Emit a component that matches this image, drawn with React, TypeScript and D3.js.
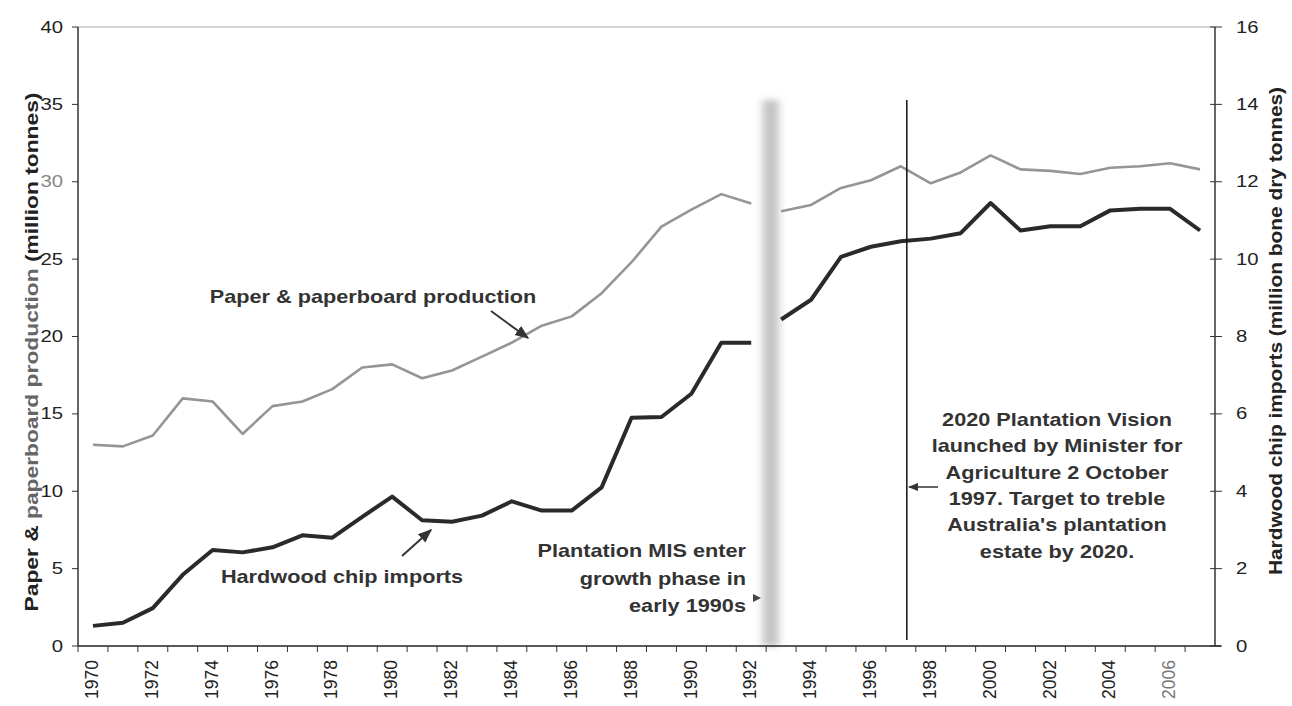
import React from "react";
import * as d3 from "d3";

const years = [1970,1971,1972,1973,1974,1975,1976,1977,1978,1979,1980,1981,1982,1983,1984,1985,1986,1987,1988,1989,1990,1991,1992,1993,1994,1995,1996,1997,1998,1999,2000,2001,2002,2003,2004,2005,2006,2007];
// Paper & paperboard production (million tonnes, left axis)
const paper = [13.0,12.9,13.6,16.0,15.8,13.7,15.5,15.8,16.6,18.0,18.2,17.3,17.8,18.7,19.6,20.7,21.3,22.8,24.8,27.1,28.2,29.2,28.6,28.1,28.5,29.6,30.1,31.0,29.9,30.6,31.7,30.8,30.7,30.5,30.9,31.0,31.2,30.8];
// Hardwood chip imports (million bone dry tonnes, right axis)
const hardwood = [0.52,0.6,0.98,1.84,2.48,2.42,2.55,2.86,2.8,3.34,3.86,3.25,3.21,3.37,3.74,3.5,3.5,4.1,5.9,5.92,6.52,7.84,7.84,8.44,8.95,10.06,10.32,10.46,10.53,10.67,11.45,10.74,10.85,10.85,11.26,11.3,11.3,10.74];
const breakAfter = 1992; // the lines are broken between 1992 and 1993
const leftTicks = [0,5,10,15,20,25,30,35,40];
const rightTicks = [0,2,4,6,8,10,12,14,16];
const xLabelYears = [1970,1972,1974,1976,1978,1980,1982,1984,1986,1988,1990,1992,1994,1996,1998,2000,2002,2004,2006];
const visionYear = 1997;
const visionLines = ["2020 Plantation Vision","launched by Minister for","Agriculture 2 October","1997. Target to treble","Australia's plantation","estate by 2020."];
const misLines = ["Plantation MIS enter","growth phase in","early 1990s"];

const W = 1292, H = 706;
const L = 78, R = 1215, T = 27, B = 646;
const FONT = "'Liberation Sans', Arial, sans-serif";
const SX = 1.24;

function SText(props: { x: number; y: number; anchor?: string; size?: number; bold?: boolean; fill?: string; sx?: number; children: React.ReactNode }) {
  const { x, y, anchor = "start", size = 17.5, bold = true, fill = "#333", sx = SX, children } = props;
  return (
    <text transform={`translate(${x},${y}) scale(${sx},1)`} textAnchor={anchor} dy="0.35em" fontSize={size} fontWeight={bold ? "bold" : "normal"} fill={fill}>
      {children}
    </text>
  );
}

export default function App() {
  const x = d3.scalePoint<number>().domain(years).range([L, R]).padding(0.5);
  const step = x.step();
  const yL = d3.scaleLinear().domain([0, 40]).range([B, T]);
  const yR = d3.scaleLinear().domain([0, 16]).range([B, T]);

  const seg = (vals: number[], y: (v: number) => number) => {
    const pts = years.map((yr, i) => ({ yr, v: vals[i] }));
    const a = pts.filter(p => p.yr <= breakAfter);
    const b = pts.filter(p => p.yr > breakAfter);
    const line = d3.line<{ yr: number; v: number }>().x(p => x(p.yr) as number).y(p => y(p.v));
    return [line(a) as string, line(b) as string];
  };
  const paperPaths = seg(paper, yL);
  const hwPaths = seg(hardwood, yR);

  const vx = (x(visionYear) as number) + step * 0.2;
  const bandX = (x(breakAfter) as number) + step * 0.65;

  return (
    <svg width={W} height={H} style={{ position: "absolute", left: 0, top: 0, background: "#fff" }} fontFamily={FONT}>
      <defs>
        <filter id="blur" x="-2" y="-0.1" width="5" height="1.2">
          <feGaussianBlur stdDeviation="4.5 3" />
        </filter>
        <marker id="ah" viewBox="0 0 10 10" refX="9" refY="5" markerWidth="7" markerHeight="7" orient="auto-start-reverse">
          <path d="M0,1 L10,5 L0,9 z" fill="#333" />
        </marker>
      </defs>

      {/* fold band */}
      <rect x={bandX - 8} y={100} width={16} height={B - 100} fill="#c2c2c2" filter="url(#blur)" />

      {/* frame */}
      <line x1={L} x2={R} y1={T} y2={T} stroke="#aaa" strokeWidth={1} />
      <line x1={L} x2={L} y1={T} y2={B} stroke="#333" strokeWidth={1.5} />
      <line x1={R} x2={R} y1={T} y2={B} stroke="#333" strokeWidth={1.5} />
      <line x1={L} x2={R + 6} y1={B} y2={B} stroke="#222" strokeWidth={1.5} />

      {/* left ticks */}
      {leftTicks.map(t => (
        <g key={"l" + t}>
          <line x1={L - 6} x2={L} y1={yL(t)} y2={yL(t)} stroke="#333" />
          <SText x={63} y={yL(t)} anchor="end" size={16} bold={false} sx={1.27} fill={t === 30 ? "#888" : "#222"}>{t}</SText>
        </g>
      ))}
      {/* right ticks */}
      {rightTicks.map(t => (
        <g key={"r" + t}>
          <line x1={R - 5} x2={R + 7} y1={yR(t)} y2={yR(t)} stroke="#333" />
          <SText x={1236} y={yR(t)} anchor="start" size={16} bold={false} sx={1.27} fill="#222">{t}</SText>
        </g>
      ))}
      {/* x ticks at band boundaries */}
      {years.map(yr => (
        <line key={"xt" + yr} x1={(x(yr) as number) - step / 2} x2={(x(yr) as number) - step / 2} y1={B} y2={B + 6} stroke="#333" />
      ))}
      {xLabelYears.map(yr => (
        <text key={"xl" + yr} transform={`translate(${(x(yr) as number) - 1},${B + 14}) rotate(-90)`} textAnchor="end" dy="0.35em" fontSize={17.5} fill={yr === 2006 ? "#777" : "#222"}>{yr}</text>
      ))}

      {/* axis titles */}
      <text transform={`translate(31,352) rotate(-90) scale(1.2,1)`} textAnchor="middle" dy="0.35em" fontSize={19} fontWeight="bold" fill="#222">
        Paper &amp; <tspan fill="#666">paperboard production</tspan> (million tonnes)
      </text>
      <text transform={`translate(1276,331) rotate(-90) scale(1.16,1)`} textAnchor="middle" dy="0.35em" fontSize={18} fontWeight="bold" fill="#222">
        Hardwood chip imports (million bone dry tonnes)
      </text>

      {/* series */}
      {paperPaths.map((d, i) => (
        <path key={"p" + i} d={d} fill="none" stroke="#959595" strokeWidth={2.6} strokeLinejoin="round" />
      ))}
      {hwPaths.map((d, i) => (
        <path key={"h" + i} d={d} fill="none" stroke="#2a2a2a" strokeWidth={4} strokeLinejoin="round" />
      ))}

      {/* vision line */}
      <line x1={vx} x2={vx} y1={100} y2={B - 6} stroke="#111" strokeWidth={1.5} />

      {/* annotations */}
      <SText x={373} y={297} anchor="middle">Paper &amp; paperboard production</SText>
      <line x1={491} y1={311} x2={528} y2={338} stroke="#333" strokeWidth={2} markerEnd="url(#ah)" />

      <SText x={342} y={577} anchor="middle">Hardwood chip imports</SText>
      <line x1={402} y1={556} x2={431} y2={530} stroke="#333" strokeWidth={2} markerEnd="url(#ah)" />

      {misLines.map((s, i) => (
        <SText key={"m" + i} x={746} y={551 + i * 27.5} anchor="end">{s}</SText>
      ))}
      <path d="M753,594 L761,598 L753,602 z" fill="#444" />

      {visionLines.map((s, i) => (
        <SText key={"v" + i} x={1057} y={420 + i * 26.3} anchor="middle">{s}</SText>
      ))}
      <line x1={938} y1={487} x2={909} y2={487} stroke="#333" strokeWidth={1.5} markerEnd="url(#ah)" />
    </svg>
  );
}
